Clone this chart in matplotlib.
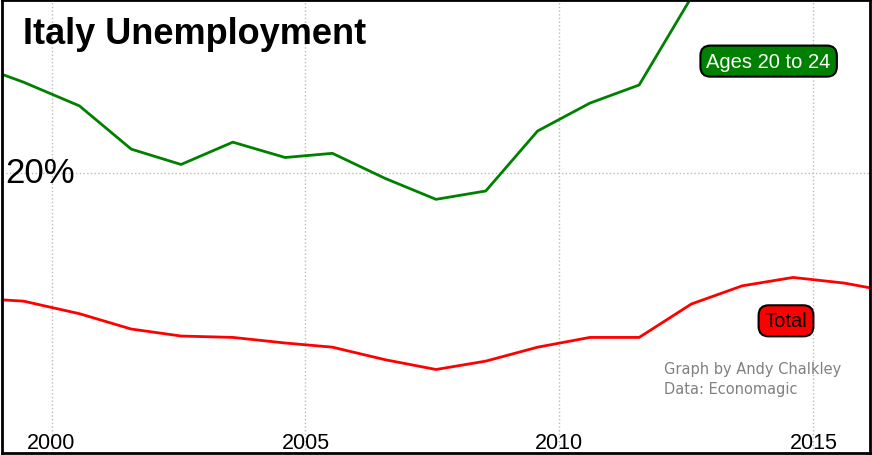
import matplotlib
matplotlib.use("Agg")
import matplotlib.pyplot as plt
import matplotlib.transforms as mtransforms

years = [1999.0, 1999.45, 2000.55, 2001.57, 2002.55, 2003.57, 2004.6, 2005.53,
         2006.57, 2007.57, 2008.55, 2009.57, 2010.6, 2011.57, 2012.6, 2013.6, 2014.6, 2015.6, 2016.2]
youth = [27.1, 26.5, 24.8, 21.7, 20.6, 22.2, 21.1, 21.4,
         19.6, 18.1, 18.7, 23.0, 25.0, 26.3, 32.6, 36.5, 37.0, 35.5, 34.5]
total = [10.9, 10.8, 9.9, 8.8, 8.3, 8.2, 7.8, 7.5,
         6.6, 5.9, 6.5, 7.5, 8.2, 8.2, 10.6, 11.9, 12.5, 12.1, 11.7]
xticks = [2000, 2005, 2010, 2015]
yticks = [20]

fig = plt.figure(figsize=(8.72, 4.56), dpi=100)
ax = fig.add_axes([0.002, 0.004, 0.996, 0.994])
ax.set_xlim(1999.02, 2016.12)
ax.set_ylim(-0.1, 32.4)
ax.plot(years, youth, color="#008000", lw=2)
ax.plot(years, total, color="#ff0000", lw=2)

ax.set_xticks(xticks)
ax.set_xticklabels([str(t) for t in xticks])
ax.set_yticks(yticks)
ax.set_yticklabels([])
ax.tick_params(axis="x", direction="in", length=0, pad=-15, labelsize=15.5)
ax.tick_params(axis="y", length=0)
for lab in ax.get_xticklabels():
    lab.set_fontfamily("Liberation Sans")
ax.grid(True, color="#bbbbbb", ls=":", lw=1)
for s in ax.spines.values():
    s.set_linewidth(2)
    s.set_color("black")

trans = mtransforms.blended_transform_factory(ax.transAxes, ax.transData)
ax.text(0.004, 20, "20%", transform=trans, fontsize=25, family="Liberation Sans",
        va="center", ha="left")
ax.text(0.024, 0.925, "Italy Unemployment", transform=ax.transAxes, fontsize=26,
        fontweight="bold", family="Liberation Sans", va="center")
ax.text(0.883, 0.865, "Ages 20 to 24", transform=ax.transAxes, fontsize=14.5,
        color="white", family="Liberation Sans", ha="center", va="center",
        bbox=dict(boxstyle="round,pad=0.3,rounding_size=0.5", fc="#008000", ec="black", lw=1.5))
ax.text(0.903, 0.292, "Total", transform=ax.transAxes, fontsize=14.5,
        color="black", family="Liberation Sans", ha="center", va="center",
        bbox=dict(boxstyle="round,pad=0.3,rounding_size=0.5", fc="#ff0000", ec="black", lw=1.5))
ax.text(0.762, 0.165, "Graph by Andy Chalkley\nData: Economagic", transform=ax.transAxes,
        fontsize=10.5, color="#808080", family="DejaVu Sans", ha="left", va="center",
        linespacing=1.4)

fig.savefig("out.png", dpi=100)
